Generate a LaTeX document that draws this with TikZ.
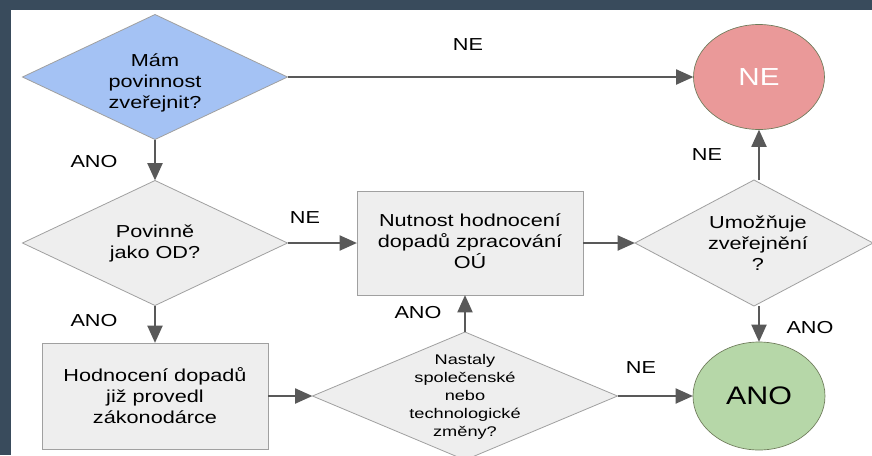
\documentclass[tikz,border=0pt]{standalone}
\usepackage{fontspec}
\setmainfont{Liberation Sans}
\usetikzlibrary{shapes.geometric,arrows.meta}
\definecolor{framec}{HTML}{394B5C}
\definecolor{arrowc}{HTML}{595959}
\definecolor{boxfill}{HTML}{EEEEEE}
\definecolor{boxline}{HTML}{A0A0A0}
\definecolor{bluefill}{HTML}{A4C2F4}
\definecolor{redfill}{HTML}{EA9999}
\definecolor{greenfill}{HTML}{B6D7A8}
\definecolor{ovalline}{HTML}{6E7B5A}
\begin{document}
\begin{tikzpicture}[x=0.75pt,y=-0.75pt,
  dia/.style={diamond, draw=boxline, fill=boxfill, line width=0.6pt, inner sep=0pt, outer sep=0pt},
  boxn/.style={rectangle, draw=boxline, fill=boxfill, line width=0.6pt, inner sep=0pt, outer sep=0pt},
  oval/.style={ellipse, draw=ovalline, line width=0.5pt, inner sep=0pt, outer sep=0pt},
  txt/.style={font=\fontsize{13}{15.75}\selectfont, align=center, xscale=1.25, inner sep=0pt},
  smalltxt/.style={font=\fontsize{10.5}{13.5}\selectfont, align=center, xscale=1.3, inner sep=0pt},
  lbl/.style={font=\fontsize{13}{15.75}\selectfont, xscale=1.25, inner sep=0pt},
  arr/.style={draw=arrowc, line width=2.2pt, -{Triangle[length=13pt,width=11pt]}}
]
\useasboundingbox (0,0) rectangle (872,455);
\fill[framec] (0,0) rectangle (872,455);
\fill[white] (11,10) rectangle (872,455);
\begin{scope}
\clip (11,10) rectangle (872,455);
% shapes
\node[dia, fill=bluefill, minimum width=198.75pt, minimum height=93.75pt] (d1) at (155,77) {};
\node[txt] (t1) at (155,83) {Mám\\povinnost\\zveřejnit?};
\node[dia, minimum width=198.75pt, minimum height=93.75pt] (d2) at (155,243) {};
\node[txt] (t2) at (155,243) {Povinně\\jako OD?};
\node[boxn, minimum width=169.5pt, minimum height=78pt] (r1) at (470,243) {};
\node[txt] (t3) at (470,241) {Nutnost hodnocení\\dopadů zpracování\\OÚ};
\node[dia, minimum width=178.5pt, minimum height=94.5pt] (d3) at (754,243) {};
\node[txt] (t4) at (758,243) {Umožňuje\\zveřejnění\\?};
\node[oval, fill=redfill, minimum width=98.25pt, minimum height=78.75pt] (e1) at (759,77) {};
\node[font=\fontsize{18.5}{20}\selectfont, text=white, xscale=1.2, inner sep=0pt] (t5) at (759,77) {NE};
\node[oval, fill=greenfill, minimum width=99pt, minimum height=81pt] (e2) at (759,396) {};
\node[font=\fontsize{19}{21}\selectfont, xscale=1.2, inner sep=0pt] (t6) at (759,396) {ANO};
\node[boxn, minimum width=169.5pt, minimum height=79.5pt] (r2) at (155,396) {};
\node[txt] (t7) at (155,396) {Hodnocení dopadů\\již provedl\\zákonodárce};
\node[dia, minimum width=228.75pt, minimum height=96pt] (d4) at (465,396) {};
\node[smalltxt] (t8) at (465,397) {Nastaly\\společenské\\nebo\\technologické\\změny?};
% connectors
\draw[arr] (d1.east) -- (e1.west);
\draw[arr] (d1.south) -- (d2.north);
\draw[arr] (d2.east) -- (r1.west);
\draw[arr] (d2.south) -- (r2.north);
\draw[arr] (r2.east) -- (d4.west);
\draw[arr] (d4.north) -- (d4.north |- r1.south);
\draw[arr] (d4.east) -- (e2.west);
\draw[arr] (r1.east) -- (d3.west);
\draw[arr] (e1.south |- d3.north) -- (e1.south);
\draw[arr] (e2.north |- d3.south) -- (e2.north);
% labels
\node[lbl] (l1) at (468,45) {NE};
\node[lbl] (l2) at (94,162) {ANO};
\node[lbl] (l3) at (305,218) {NE};
\node[lbl] (l4) at (94,321) {ANO};
\node[lbl] (l5) at (418,313) {ANO};
\node[lbl] (l6) at (641,368) {NE};
\node[lbl] (l7) at (707,155) {NE};
\node[lbl] (l8) at (810,328) {ANO};
\end{scope}
\end{tikzpicture}
\end{document}
